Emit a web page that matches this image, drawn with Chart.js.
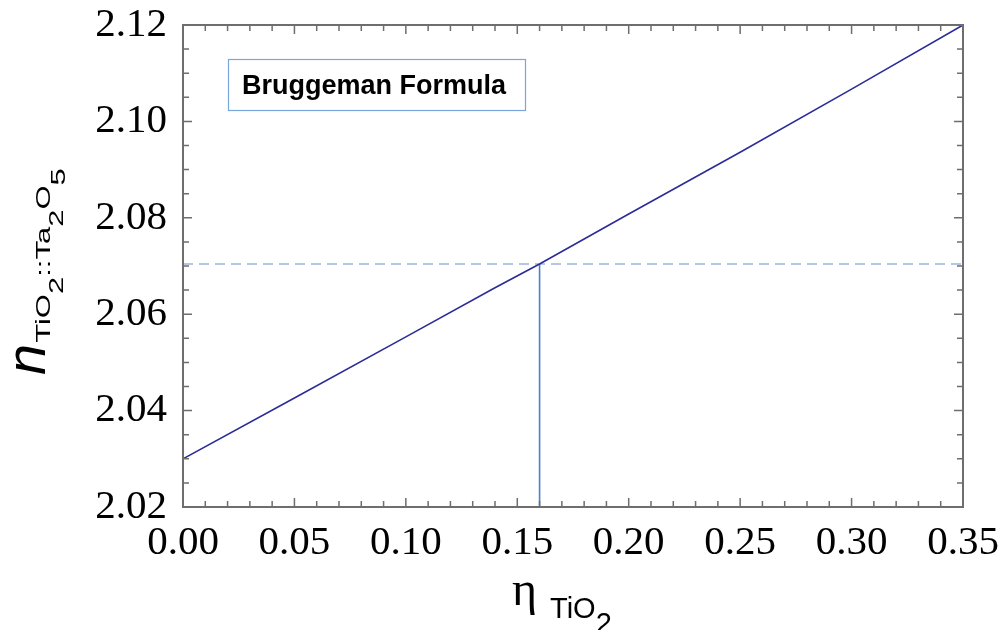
<!DOCTYPE html>
<html>
<head>
<meta charset="utf-8">
<script src="https://cdn.jsdelivr.net/npm/chart.js@4.4.0/dist/chart.umd.min.js"></script>
<style>
    html, body { margin: 0; padding: 0; background: #fff; }
    #wrap { width: 1004px; height: 630px; position: relative; }
</style>
</head>
<body>
<div id="wrap"><canvas id="chart" width="1004" height="630"></canvas></div>
<script>
// Bruggeman effective index vs TiO2 volume fraction
var etaTiO2 = [0.00, 0.05, 0.10, 0.14, 0.16, 0.20, 0.25, 0.30, 0.35];
var nMix = [2.030, 2.0426, 2.0553, 2.0655, 2.0704, 2.0808, 2.0936, 2.1067, 2.120];

// working point marked by the guide lines
var markEta = [0.16];
var markN = [2.0704];

var xTicks = [0.00, 0.05, 0.10, 0.15, 0.20, 0.25, 0.30, 0.35];
var yTicks = [2.02, 2.04, 2.06, 2.08, 2.10, 2.12];
var xMinorStep = 0.01;
var yMinorStep = 0.005;

var xMin = xTicks[0], xMax = xTicks[xTicks.length - 1];
var yMin = yTicks[0], yMax = yTicks[yTicks.length - 1];

var curve = etaTiO2.map(function (v, i) { return { x: v, y: nMix[i] }; });
var hGuide = [{ x: xMin, y: markN[0] }, { x: xMax, y: markN[0] }];
var vGuide = [{ x: markEta[0], y: yMin }, { x: markEta[0], y: markN[0] }];

var tickFont = { family: 'Liberation Serif', size: 41 };

// drop the label overhang so the plot frame lands where the layout padding says
var noOverhang = function (s) {
    s.paddingTop = 0; s.paddingBottom = 0;
    s.paddingLeft = 0; s.paddingRight = 0;
};

var framePlugin = {
    id: 'frame',
    afterDraw: function (chart) {
        var ctx = chart.ctx;
        var a = chart.chartArea;
        var xs = chart.scales.x, ys = chart.scales.y;
        ctx.save();
        ctx.strokeStyle = '#6e6e6e';
        ctx.lineWidth = 1.5;
        ctx.beginPath();
        // x ticks, bottom and top, pointing inwards
        var n = Math.round((xMax - xMin) / xMinorStep);
        for (var i = 0; i <= n; i++) {
            var px = xs.getPixelForValue(xMin + i * xMinorStep);
            var len = (i % 5 === 0) ? 9 : 6;
            ctx.moveTo(px, a.bottom); ctx.lineTo(px, a.bottom - len);
            ctx.moveTo(px, a.top); ctx.lineTo(px, a.top + len);
        }
        var m = Math.round((yMax - yMin) / yMinorStep);
        for (var j = 0; j <= m; j++) {
            var py = ys.getPixelForValue(yMin + j * yMinorStep);
            var len2 = (j % 4 === 0) ? 9 : 6;
            ctx.moveTo(a.left, py); ctx.lineTo(a.left + len2, py);
            ctx.moveTo(a.right, py); ctx.lineTo(a.right - len2, py);
        }
        ctx.stroke();
        ctx.lineWidth = 2;
        ctx.strokeRect(a.left, a.top, a.right - a.left, a.bottom - a.top);

        // legend box
        ctx.fillStyle = '#fff';
        ctx.fillRect(228, 59, 297, 51);
        ctx.strokeStyle = '#7aa6de';
        ctx.lineWidth = 1.2;
        ctx.strokeRect(228.5, 59.5, 297, 51);
        ctx.fillStyle = '#000';
        ctx.font = 'bold 27px "Liberation Sans"';
        ctx.textBaseline = 'alphabetic';
        ctx.textAlign = 'left';
        ctx.fillText('Bruggeman Formula', 242, 94);

        // x title: eta with subscript TiO2
        ctx.font = '48px "Liberation Serif"';
        ctx.fillText('\u03b7', 512, 605);
        ctx.font = '29px "Liberation Sans"';
        ctx.fillText('TiO', 550, 618);
        var w = ctx.measureText('TiO').width;
        ctx.fillText('2', 550 + w, 633);

        // y title: n with subscript TiO2::Ta2O5, rotated; the subscript is stretched along the text
        ctx.translate(45, 375);
        ctx.rotate(-Math.PI / 2);
        ctx.font = 'italic 56px "Liberation Sans"';
        ctx.fillText('n', 0, 0);
        var cx = ctx.measureText('n').width + 1;
        var stretch = 1.55;
        var parts = [
            ['TiO', 5], ['2', 18], ['::Ta', 5], ['2', 18], ['O', 5], ['5', 20]
        ];
        ctx.font = '20px "Liberation Sans"';
        parts.forEach(function (p) {
            ctx.save();
            ctx.translate(cx, p[1]);
            ctx.scale(stretch, 1);
            ctx.fillText(p[0], 0, 0);
            ctx.restore();
            cx += ctx.measureText(p[0]).width * stretch;
        });
        ctx.restore();
    }
};

new Chart(document.getElementById('chart').getContext('2d'), {
    type: 'scatter',
    data: {
        datasets: [{
            data: curve,
            showLine: true,
            borderColor: '#2c2c98',
            borderWidth: 1.6,
            pointRadius: 0,
            order: 1
        }, {
            data: hGuide,
            showLine: true,
            borderColor: '#9ab5e2',
            borderWidth: 1.5,
            borderDash: [10, 6],
            pointRadius: 0,
            order: 3
        }, {
            data: vGuide,
            showLine: true,
            borderColor: '#4d80c8',
            borderWidth: 1.6,
            pointRadius: 0,
            order: 2
        }]
    },
    options: {
        responsive: false,
        animation: false,
        devicePixelRatio: 1,
        layout: { padding: { left: 0, right: 41, top: 25, bottom: 0 } },
        plugins: { legend: { display: false }, tooltip: { enabled: false } },
        scales: {
            x: {
                type: 'linear',
                min: xMin,
                max: xMax,
                afterBuildTicks: function (s) { s.ticks = xTicks.map(function (v) { return { value: v }; }); },
                afterFit: function (s) { s.height = 123; noOverhang(s); },
                grid: { display: false, drawTicks: false },
                border: { display: false },
                ticks: {
                    font: tickFont, color: '#000', padding: 12, maxRotation: 0,
                    callback: function (v) { return v.toFixed(2); }
                }
            },
            y: {
                type: 'linear',
                min: yMin,
                max: yMax,
                afterBuildTicks: function (s) { s.ticks = yTicks.map(function (v) { return { value: v }; }); },
                afterFit: function (s) { s.width = 183; noOverhang(s); },
                grid: { display: false, drawTicks: false },
                border: { display: false },
                ticks: {
                    font: tickFont, color: '#000', padding: 16,
                    callback: function (v) { return v.toFixed(2); }
                }
            }
        }
    },
    plugins: [framePlugin]
});
</script>
</body>
</html>
